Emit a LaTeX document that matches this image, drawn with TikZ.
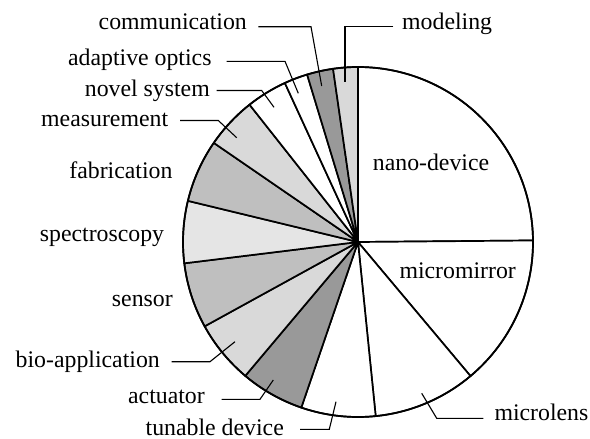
\documentclass[tikz,border=0pt]{standalone}
\usepackage{fontspec}
\newfontfamily\fa{Liberation Serif}
\begin{document}
\begin{tikzpicture}[x=1pt,y=1pt,
  slice/.style={draw=black, line width=1.7pt, line join=round},
  lbl/.style={inner sep=0pt, font=\fa\fontsize{23.8}{28}\selectfont},
  leader/.style={draw=black, line width=1.1pt}]
\useasboundingbox (0,0) rectangle (590,-439);
\coordinate (C) at (358,-242);
\colorlet{gDark}{black!40}
\colorlet{gMid}{black!25}
\colorlet{gLight}{black!15}
\colorlet{gPale}{black!10}
\foreach \a/\b/\c in {90/0.5/white, 0.5/-50/white, -50/-84.2/white, -84.2/-108.9/white,
  -108.9/-130.1/gDark, -130.1/-151.2/gLight, -151.2/-173/gMid, -173/-193.6/gPale,
  -193.6/-214.5/gMid, -214.5/-231.7/gLight, -231.7/-245.3/white, -245.3/-253.1/white,
  -253.1/-261.8/gDark, -261.8/-270/gLight}
  \filldraw[slice, fill=\c] (C) -- ++(\a:175pt) arc[start angle=\a, end angle=\b, radius=175pt] -- cycle;
\draw[line width=1.7pt] (C) circle[radius=175pt];

% labels
\node[lbl, anchor=base west] (nano) at (372.7,-170) {nano-device};
\node[lbl, anchor=base west] (mirror) at (399.3,-278.3) {micromirror};
\node[lbl, anchor=base west] (lens) at (494.3,-420) {microlens};
\node[lbl, anchor=base east] (tune) at (284,-435) {tunable device};
\node[lbl, anchor=base east] (act) at (205,-403.3) {actuator};
\node[lbl, anchor=base east] (bio) at (160,-367) {bio-application};
\node[lbl, anchor=base east] (sens) at (173,-306) {sensor};
\node[lbl, anchor=base east] (spec) at (164.3,-241.7) {spectroscopy};
\node[lbl, anchor=base east] (fab) at (172.7,-178.3) {fabrication};
\node[lbl, anchor=base east] (meas) at (168.3,-126.7) {measurement};
\node[lbl, anchor=base east] (novel) at (210,-96) {novel system};
\node[lbl, anchor=base east] (adapt) at (211.7,-65) {adaptive optics};
\node[lbl, anchor=base east] (comm) at (247,-29) {communication};
\node[lbl, anchor=base west] (model) at (402,-30) {modeling};

% leader coordinates
\coordinate (commA) at (258.3,-26.7); \coordinate (commB) at (311,-26.7); \coordinate (commE) at (321.7,-86);
\coordinate (modA) at (393.3,-26.7); \coordinate (modB) at (345,-26.7); \coordinate (modE) at (345,-81.7);
\coordinate (adA) at (226.7,-61.3); \coordinate (adB) at (285,-61.3); \coordinate (adE) at (298.3,-93.3);
\coordinate (novA) at (216.7,-90.5); \coordinate (novB) at (261.7,-90.5); \coordinate (novE) at (274,-107.3);
\coordinate (meaA) at (180,-120.5); \coordinate (meaB) at (218.3,-120.5); \coordinate (meaE) at (236.7,-137.7);
\coordinate (bioA) at (171.7,-361.7); \coordinate (bioB) at (210,-361.7); \coordinate (bioE) at (235,-341.7);
\coordinate (actA) at (221.7,-399.3); \coordinate (actB) at (260,-399.3); \coordinate (actE) at (273.3,-380);
\coordinate (tunA) at (300,-429.3); \coordinate (tunB) at (329.3,-429.3); \coordinate (tunE) at (336,-401.7);
\coordinate (lenA) at (483.3,-418.3); \coordinate (lenB) at (436.7,-418.3); \coordinate (lenE) at (421.7,-393.3);

\draw[leader] (commA) -- (commB) -- (commE);
\draw[leader] (modA) -- (modB) -- (modE);
\draw[leader] (adA) -- (adB) -- (adE);
\draw[leader] (novA) -- (novB) -- (novE);
\draw[leader] (meaA) -- (meaB) -- (meaE);
\draw[leader] (bioA) -- (bioB) -- (bioE);
\draw[leader] (actA) -- (actB) -- (actE);
\draw[leader] (tunA) -- (tunB) -- (tunE);
\draw[leader] (lenA) -- (lenB) -- (lenE);
\end{tikzpicture}
\end{document}
